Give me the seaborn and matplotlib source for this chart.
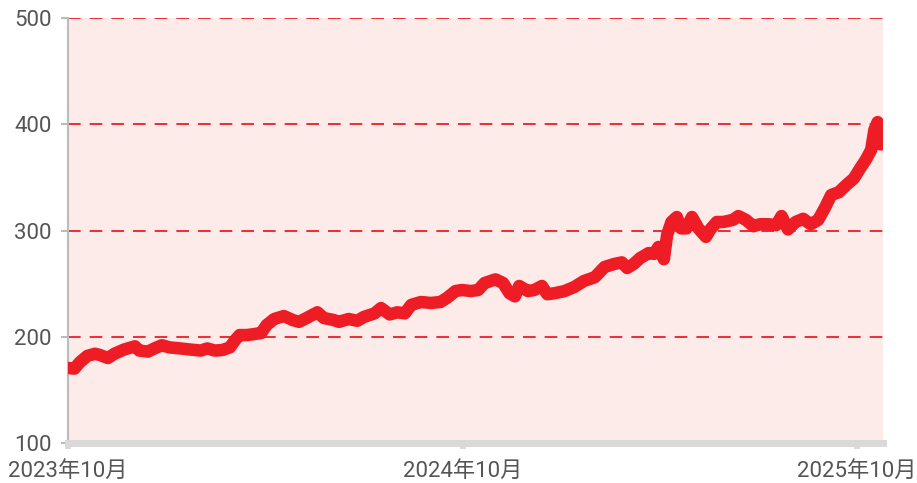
import pandas as pd
import numpy as np
import matplotlib
matplotlib.use("Agg")
import matplotlib.pyplot as plt
import seaborn as sns

# values
dates = ["2023-10-01", "2023-10-07", "2023-10-12", "2023-10-19", "2023-10-26", "2023-10-30",
         "2023-11-07", "2023-11-13", "2023-11-22", "2023-12-02", "2023-12-06", "2023-12-14",
         "2023-12-20", "2023-12-27", "2024-01-03", "2024-01-13", "2024-01-22", "2024-02-01",
         "2024-02-07", "2024-02-14", "2024-02-21", "2024-02-28", "2024-03-04", "2024-03-08",
         "2024-03-15", "2024-03-22", "2024-03-28", "2024-04-02", "2024-04-09", "2024-04-18",
         "2024-04-26", "2024-05-02", "2024-05-09", "2024-05-19", "2024-05-25", "2024-06-03",
         "2024-06-08", "2024-06-17", "2024-06-25", "2024-07-01", "2024-07-11", "2024-07-17",
         "2024-07-25", "2024-08-01", "2024-08-08", "2024-08-14", "2024-08-23", "2024-09-01",
         "2024-09-10", "2024-09-16", "2024-09-24", "2024-09-30", "2024-10-08", "2024-10-15",
         "2024-10-21", "2024-10-31", "2024-11-07", "2024-11-13", "2024-11-18", "2024-11-22",
         "2024-11-30", "2024-12-06", "2024-12-13", "2024-12-18", "2024-12-25", "2025-01-03",
         "2025-01-12", "2025-01-21", "2025-01-31", "2025-02-09", "2025-02-18", "2025-02-25",
         "2025-03-02", "2025-03-08", "2025-03-14", "2025-03-22", "2025-03-27", "2025-03-31",
         "2025-04-05", "2025-04-08", "2025-04-12", "2025-04-17", "2025-04-21", "2025-04-26",
         "2025-05-01", "2025-05-07", "2025-05-14", "2025-05-18", "2025-05-24", "2025-05-30",
         "2025-06-08", "2025-06-13", "2025-06-20", "2025-06-27", "2025-07-03", "2025-07-11",
         "2025-07-18", "2025-07-23", "2025-07-29", "2025-08-05", "2025-08-12", "2025-08-19",
         "2025-08-26", "2025-09-01", "2025-09-07", "2025-09-14", "2025-09-21", "2025-09-28",
         "2025-10-04", "2025-10-09", "2025-10-14", "2025-10-17", "2025-10-20", "2025-10-23"]
values = [170.6, 170, 176, 182, 184, 183,
          180, 184, 188, 191, 187, 186,
          189, 192, 190, 189, 188, 187,
          189, 187, 187.5, 190, 197, 201.6,
          201.6, 202.6, 203.5, 211, 216.7, 219.5,
          215.8, 214, 217.6, 223, 217.6, 215.8,
          214, 216.7, 215, 218.6, 222, 227,
          221, 223, 222, 230, 232.7, 231.8,
          232.7, 236.5, 243, 244, 243, 244,
          250.6, 254, 250.6, 241, 238, 247.8,
          243, 244, 247.8, 240, 241, 243,
          246.8, 252.5, 256, 265.6, 268.5, 270,
          264.7, 268.5, 274, 278.8, 278, 284.5,
          273, 295.8, 308, 312.7, 302, 302,
          312.7, 302, 294, 301, 308, 308,
          310, 313.6, 310, 304, 305.9, 305.9,
          305, 313.6, 301, 308, 311, 305.9,
          310, 321, 333.4, 336, 342.8, 349,
          358.8, 366.4, 375.8, 394.6, 402, 381]

y_ticks = [100, 200, 300, 400, 500]
x_ticks = ["2023-10-01", "2024-10-01", "2025-10-01"]
x_tick_labels = ["2023年10月", "2024年10月", "2025年10月"]

df = pd.DataFrame({"date": pd.to_datetime(dates), "value": values})

sns.set_style("white")
plt.rcParams["font.family"] = ["Roboto", "Noto Sans CJK SC", "DejaVu Sans"]

fig = plt.figure(figsize=(9.17, 4.83), dpi=100)
ax = fig.add_axes([68 / 917, 1 - 443 / 483, 815 / 917, 425 / 483])
ax.set_facecolor("#fdebea")

# dashed red grid lines
for v in y_ticks[1:]:
    ax.axhline(v, color="#ee1c25", lw=1.3, dashes=(7, 5), zorder=1)

sns.lineplot(data=df, x="date", y="value", ax=ax, color="#ee1c25", lw=9,
             solid_joinstyle="round", solid_capstyle="round", zorder=3)

ax.set_ylim(100, 500)
ax.set_xlim(pd.Timestamp("2023-10-01"), pd.Timestamp("2025-10-25"))
ax.set_yticks(y_ticks)
ax.set_xticks(pd.to_datetime(x_ticks))
ax.set_xticklabels(x_tick_labels)
ax.set_xlabel("")
ax.set_ylabel("")

for s in ["top", "right"]:
    ax.spines[s].set_visible(False)
ax.spines["left"].set_color("#bbbbbb")
ax.spines["left"].set_linewidth(1.5)
ax.spines["bottom"].set_color("#d9d9d9")
ax.spines["bottom"].set_linewidth(5)

ax.tick_params(axis="y", length=5, width=1.5, color="#bbbbbb", labelsize=16,
               labelcolor="#555555", pad=7, left=True)
ax.tick_params(axis="x", length=4, width=4, color="#d9d9d9", labelsize=16,
               labelcolor="#555555", pad=9, bottom=True)

fig.savefig("out.png", dpi=100, facecolor="white")
